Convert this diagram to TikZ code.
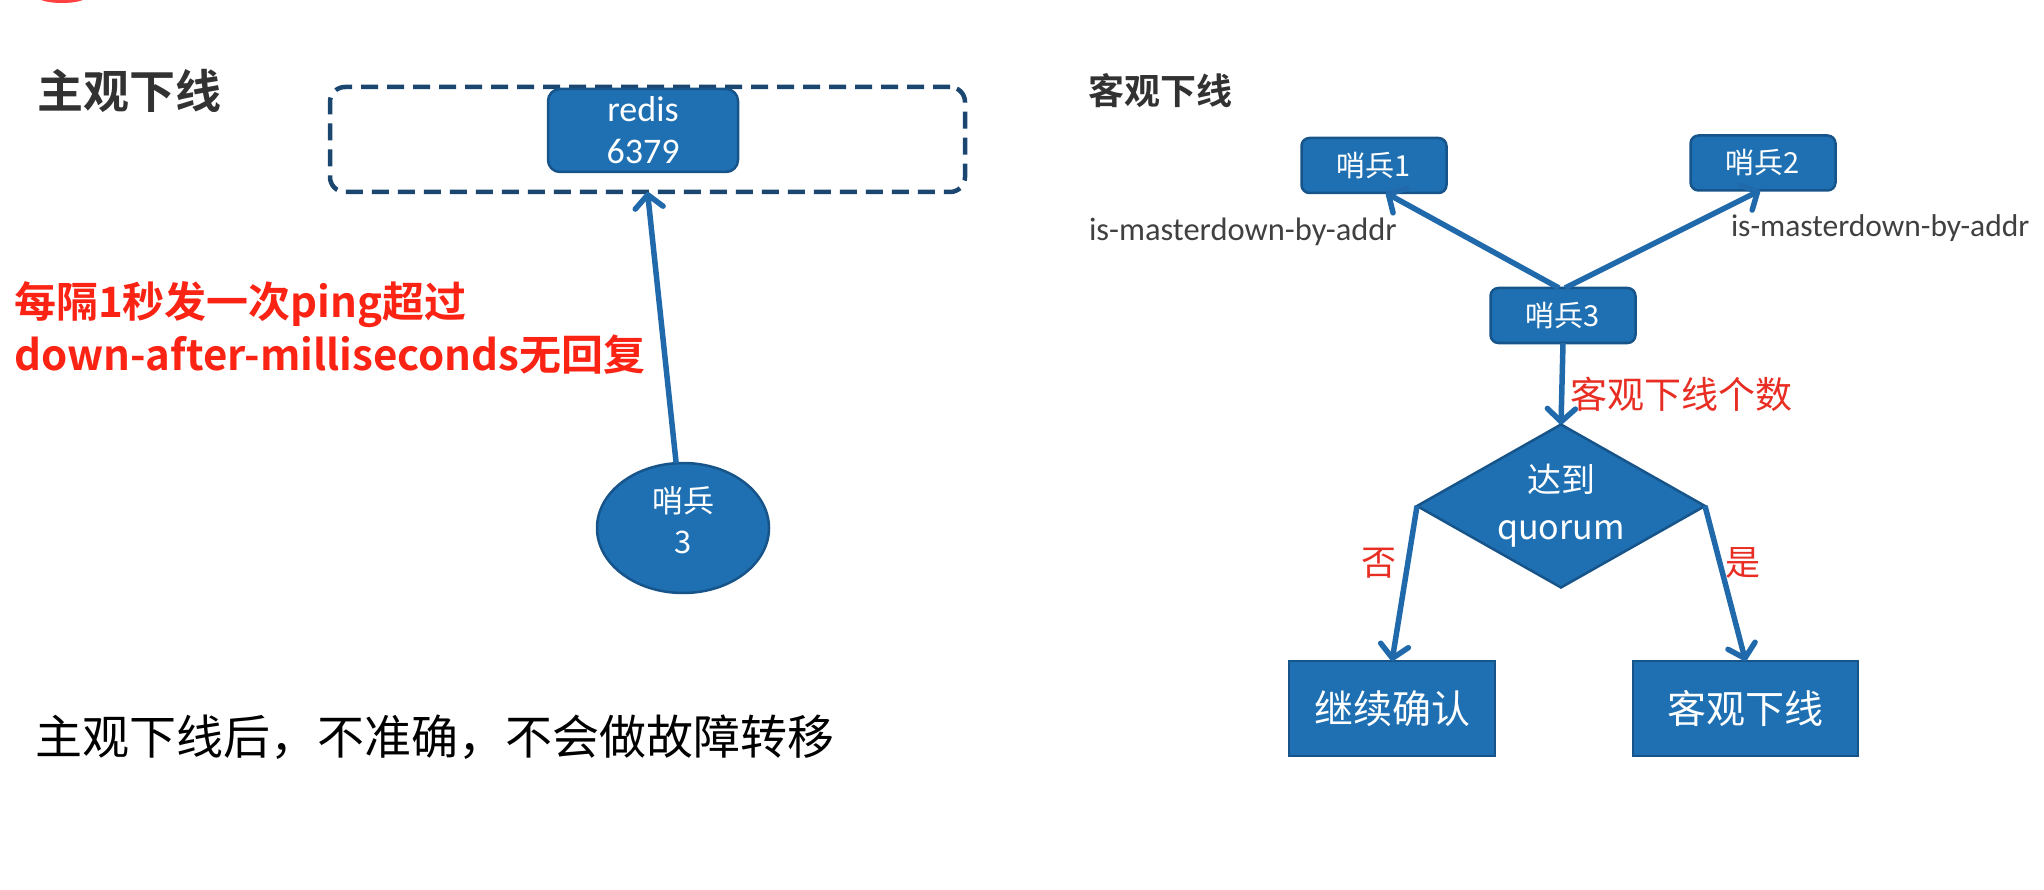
\documentclass[tikz,border=0pt]{standalone}
\usepackage{fontspec}
\setmainfont{Noto Sans CJK SC}[BoldFont={Noto Sans CJK SC Bold}]
\newfontfamily\latinfont{Carlito}
\usetikzlibrary{shapes.geometric, positioning, arrows.meta}

\definecolor{nodeblue}{RGB}{30,112,178}
\definecolor{rimblue}{RGB}{22,84,138}
\definecolor{linkblue}{RGB}{32,106,172}
\definecolor{dashblue}{RGB}{26,70,112}
\definecolor{alertred}{RGB}{250,35,20}
\definecolor{notered}{RGB}{232,45,35}
\definecolor{titlegray}{RGB}{50,50,50}

\begin{document}
\begin{tikzpicture}[
            x=1pt, y=-1pt,
            every node/.style={inner sep=0pt, outer sep=0pt},
            heading/.style={anchor=west, text=titlegray, font=\bfseries},
            bluebox/.style={draw=rimblue, line width=2.5pt, fill=nodeblue, text=white, align=center},
            sentry/.style={bluebox, rounded corners=8pt, minimum width=145pt, minimum height=55pt, font=\fontsize{29}{34}\selectfont},
            result/.style={bluebox, minimum height=95pt, font=\fontsize{39}{46}\selectfont},
            link/.style={draw=linkblue, line width=5.5pt, -{Straight Barb[length=13pt, width=28pt, round]}},
            redlabel/.style={text=notered}
          ]
            \useasboundingbox (0,0) rectangle (2044,890);
            \fill[red!75] (62,-3) ellipse (24 and 6);

            % left half
            \node[heading, font=\bfseries\fontsize{46}{52}\selectfont] (subjtitle) at (37,91) {主观下线};
            \node[draw=dashblue, line width=4.5pt, dash pattern=on 17pt off 9pt, rounded corners=15pt,
                  minimum width=635pt, minimum height=105pt] (group) at (647.5,139.5) {};
            \node[bluebox, rounded corners=12pt, minimum width=190pt, minimum height=83pt,
                  font=\latinfont\fontsize{36}{42}\selectfont] (redis) at (643,130.5) {redis\\6379};
            \node[bluebox, ellipse, minimum width=172pt, minimum height=130pt] (sentinel) at (683,528) {};
            \node[text=white, align=center, font=\fontsize{31}{41}\selectfont] (sentinelname)
              at ([yshift=8pt]sentinel.center) {哨兵\\3};
            \draw[link] (sentinel) -- (group.south);
            \node[anchor=west, text=alertred, align=left, font=\bfseries\fontsize{42}{53}\selectfont]
              (ping) at (14,328) {每隔1秒发一次ping超过\\down-after-milliseconds无回复};
            \node[anchor=west, font=\fontsize{47}{52}\selectfont] (note) at (35,737) {主观下线后，不准确，不会做故障转移};

            % right half
            \node[heading, font=\bfseries\fontsize{36}{42}\selectfont] (objtitle) at (1088,91) {客观下线};
            \node[sentry] (s1) at (1374,165.5) {哨兵1};
            \node[sentry] (s2) at (1763,163) {哨兵2};
            \node[sentry] (s3) at (1563,315.5) {哨兵3};
            \draw[link] ([xshift=-4pt]s3.north) -- ([xshift=12pt]s1.south);
            \draw[link] ([xshift=2pt]s3.north) -- ([xshift=-3pt]s2.south);
            \node[anchor=west, text=black!75, font=\latinfont\fontsize{32.5}{36}\selectfont] (ask1) at (1089,232) {is-masterdown-by-addr};
            \node[anchor=west, text=black!75, font=\latinfont\fontsize{31.5}{36}\selectfont] (ask2) at (1731,228) {is-masterdown-by-addr};
            \node[bluebox, diamond, aspect=1.77, minimum width=288pt, minimum height=163pt,
                  font=\fontsize{34}{47}\selectfont] (quorum) at (1561,506) {达到\\quorum};
            \draw[link] (s3.south) -- (quorum.north);
            \node[redlabel, anchor=west, font=\fontsize{37}{42}\selectfont] (count) at (1570,394) {客观下线个数};
            \node[result, minimum width=206pt] (cont) at (1392,708.5) {继续确认};
            \node[result, minimum width=225pt] (down) at (1745.5,708.5) {客观下线};
            \draw[link] (quorum.west) -- (cont.north);
            \draw[link] (quorum.east) -- (down.north);
            \node[redlabel, font=\fontsize{35}{40}\selectfont] (no) at (1379,563) {否};
            \node[redlabel, font=\fontsize{35}{40}\selectfont] (yes) at (1743,563) {是};
          \end{tikzpicture}
\end{document}
